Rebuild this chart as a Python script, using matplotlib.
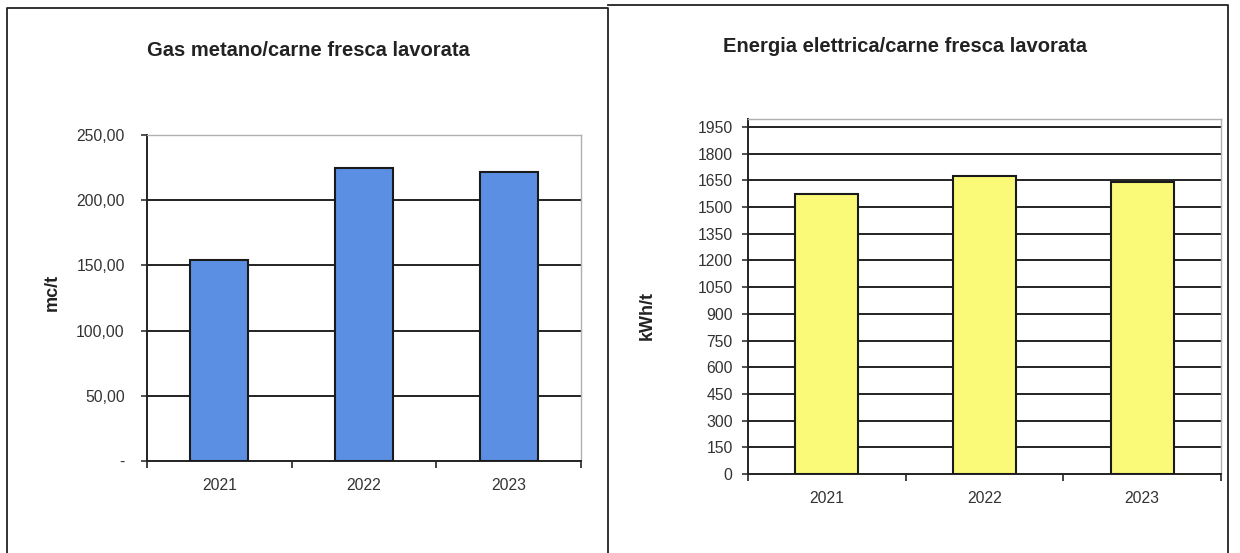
import matplotlib
matplotlib.use("Agg")
import matplotlib.pyplot as plt
from matplotlib.lines import Line2D
from matplotlib.ticker import FixedLocator

years = ["2021", "2022", "2023"]
gas_values = [154.0, 225.0, 222.0]
elec_values = [1575.0, 1675.0, 1640.0]
gas_ticks = [0, 50, 100, 150, 200, 250]
gas_tick_labels = ["-", "50,00", "100,00", "150,00", "200,00", "250,00"]
elec_ticks = list(range(0, 1951, 150))
elec_tick_labels = [str(t) for t in elec_ticks]

FONT = ["Liberation Sans Narrow", "Liberation Sans", "DejaVu Sans"]
plt.rcParams["font.family"] = FONT

W, H = 1240, 553
fig = plt.figure(figsize=(W / 100, H / 100), dpi=100)
fig.patch.set_facecolor("white")

def fx(px):
    return px / W

def fy(py):
    return 1 - py / H

# panel frames
for xs, ys in [([7, 7, 608, 608], [553, 8, 8, 553]),
               ([608, 1228, 1228], [5, 5, 553])]:
    fig.add_artist(Line2D([fx(x) for x in xs], [fy(y) for y in ys],
                          color="#222222", lw=1.3))

def style(ax, ticks, labels, ylim, ypad, color, values):
    x = list(range(len(years)))
    ax.set_axisbelow(True)
    ax.bar(x, values, width=0.4, color=color, edgecolor="#1a1a1a",
           linewidth=1.5, zorder=3)
    ax.set_xlim(-0.5, len(years) - 0.5)
    ax.set_ylim(*ylim)
    ax.set_yticks(ticks)
    ax.set_yticklabels(labels)
    ax.set_xticks(x)
    ax.set_xticklabels(years)
    ax.xaxis.set_minor_locator(FixedLocator([i - 0.5 for i in range(len(years) + 1)]))
    ax.tick_params(axis="x", which="major", length=0, pad=12, labelsize=11.3,
                   colors="#333333")
    ax.tick_params(axis="x", which="minor", length=5, width=1.2, direction="out",
                   color="#222222")
    ax.tick_params(axis="y", length=4, width=1.2, direction="out", pad=ypad,
                   labelsize=11.3, colors="#333333")
    ax.yaxis.grid(True, color="#222222", lw=1.4)
    for s in ("left", "bottom"):
        ax.spines[s].set_color("#222222")
        ax.spines[s].set_linewidth(1.4)
    for s in ("top", "right"):
        ax.spines[s].set_color("#b0b0b0")
        ax.spines[s].set_linewidth(1.0)
    ax.set_facecolor("white")

# left chart
ax1 = fig.add_axes([fx(147), fy(461), fx(581 - 147), (461 - 135) / H])
style(ax1, gas_ticks, gas_tick_labels, (0, 250), 12, "#5b8fe3", gas_values)
gl = ax1.yaxis.get_gridlines()
gl[-1].set_visible(False)
gl[0].set_visible(False)

# right chart
ax2 = fig.add_axes([fx(748), fy(474), fx(1221 - 748), (474 - 119) / H])
style(ax2, elec_ticks, elec_tick_labels, (0, 1995), 7, "#fafa78", elec_values)
ax2.yaxis.get_gridlines()[0].set_visible(False)

fig.text(fx(308), fy(50), "Gas metano/carne fresca lavorata", ha="center",
         va="center", fontsize=14.5, fontweight="bold", color="#222222")
fig.text(fx(905), fy(47), "Energia elettrica/carne fresca lavorata", ha="center",
         va="center", fontsize=14.5, fontweight="bold", color="#222222")
fig.text(fx(52), fy(292), "mc/t", rotation=90, ha="center", va="center",
         fontsize=13, fontweight="bold", color="#222222",
         family=["Liberation Sans", "DejaVu Sans"])
fig.text(fx(647), fy(315), "kWh/t", rotation=90, ha="center", va="center",
         fontsize=13, fontweight="bold", color="#222222",
         family=["Liberation Sans", "DejaVu Sans"])

fig.savefig("out.png", dpi=100, facecolor="white")
